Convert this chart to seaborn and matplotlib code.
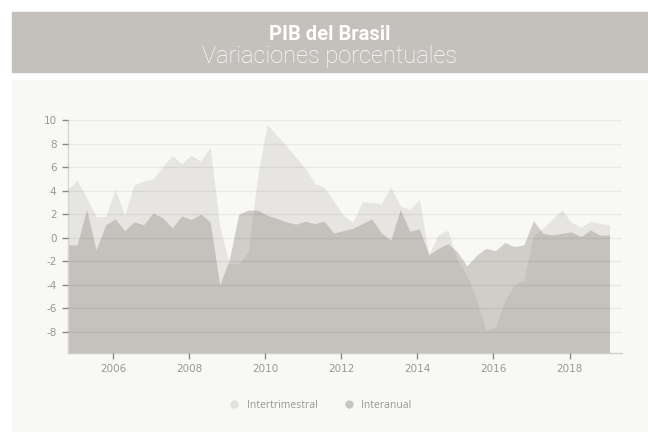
import numpy as np
import pandas as pd
import seaborn as sns
import matplotlib.pyplot as plt
from matplotlib.patches import Rectangle
from matplotlib.lines import Line2D

# Quarters shown, Q4 2004 .. Q1 2019
quarters = pd.period_range("2004Q4", "2019Q1", freq="Q")

# Series as labelled in the legend
intertrimestral = [4.1, 4.9, 3.4, 1.8, 1.8, 4.1, 1.9, 4.5, 4.8, 5.0,
                   6.0, 7.0, 6.3, 7.0, 6.5, 7.7, 1.0, -2.2, -2.2, -1.2,
                   5.3, 9.65, 8.7, 7.8, 6.85, 5.9, 4.6, 4.3, 3.1, 1.9,
                   1.3, 3.05, 3.0, 2.9, 4.3, 2.7, 2.4, 3.25, -1.4, 0.25,
                   0.65, -1.9, -3.2, -5.2, -7.8, -7.55, -5.3, -4.0, -3.6, 0.25,
                   0.8, 1.6, 2.35, 1.3, 0.9, 1.4, 1.2, 1.1]
interanual = [-0.6, -0.6, 2.4, -1.05, 1.1, 1.6, 0.6, 1.35, 1.1, 2.1,
              1.7, 0.85, 1.85, 1.55, 2.0, 1.35, -4.0, -1.9, 2.0, 2.35,
              2.35, 1.9, 1.65, 1.35, 1.15, 1.4, 1.2, 1.4, 0.4, 0.6,
              0.8, 1.2, 1.6, 0.4, -0.2, 2.4, 0.55, 0.75, -1.45, -0.9,
              -0.5, -1.2, -2.4, -1.5, -0.9, -1.1, -0.4, -0.75, -0.6, 1.45,
              0.37, 0.23, 0.37, 0.5, 0.1, 0.65, 0.23, 0.23]
labels = ["Intertrimestral", "Interanual"]
year_ticks = [2006, 2008, 2010, 2012, 2014, 2016, 2018]
value_ticks = [-8, -6, -4, -2, 0, 2, 4, 6, 8, 10]

x = np.asarray(quarters.year + (quarters.quarter - 1) / 4 + 0.05, dtype=float)
df = pd.DataFrame({"x": x, "a": intertrimestral, "b": interanual})

sns.set_theme(style="white")
plt.rcParams["font.family"] = ["DejaVu Sans"]
plt.rcParams["axes.unicode_minus"] = False

fig = plt.figure(figsize=(6.48, 4.32), dpi=100)
fig.patch.set_facecolor("white")

# header band and light panel
fig.add_artist(Rectangle((12 / 648, 1 - 72 / 432), 636 / 648, 60 / 432,
                         transform=fig.transFigure, color="#c4c0bb", zorder=0))
fig.add_artist(Rectangle((12 / 648, 0), 636 / 648, 1 - 80 / 432,
                         transform=fig.transFigure, color="#f8f8f6", zorder=0))
fig.text(330 / 648, 1 - 35 / 432, "PIB del Brasil", ha="center", va="center",
         color="white", fontsize=14.5, fontweight="bold", family="Roboto")
fig.text(330 / 648, 1 - 56 / 432, "Variaciones porcentuales", ha="center", va="center",
         color="white", fontsize=17, fontweight="light", family="Roboto")

ax = fig.add_axes([67.6 / 648, 1 - 352.5 / 432, (622 - 67.6) / 648, (352.5 - 120) / 432])
ax.set_facecolor("none")

base = -10
sns.lineplot(data=df, x="x", y="a", ax=ax, color="#e6e5e2", linewidth=0)
sns.lineplot(data=df, x="x", y="b", ax=ax, color="#8a8075", linewidth=0)
ax.fill_between(df["x"], base, df["a"], color="#e6e5e2", linewidth=0, zorder=1)
ax.fill_between(df["x"], base, df["b"], color="#8a8075", alpha=0.35, linewidth=0, zorder=1.1)

ax.set_xlim(2004.8, 2019.38)
ax.set_ylim(-9.75, 10)
ax.set_xticks(year_ticks)
ax.set_yticks(value_ticks)
ax.set_xlabel("")
ax.set_ylabel("")

ax.set_axisbelow(False)
ax.grid(axis="y", color="black", alpha=0.06, linewidth=1)
ax.grid(axis="x", visible=False)

for s in ["top", "right"]:
    ax.spines[s].set_visible(False)
ax.spines["left"].set_color("#d6d5d2")
ax.spines["bottom"].set_color("#cfceca")
ax.spines["left"].set_linewidth(1)
ax.spines["bottom"].set_linewidth(1)
ax.tick_params(axis="both", direction="out", length=4, width=1, color="#8c8a86",
               labelsize=7.5, labelcolor="#9a9893", pad=4, bottom=True, left=True)

handles = [Line2D([], [], marker="o", ls="", markersize=5, color="#e2e1df"),
           Line2D([], [], marker="o", ls="", markersize=5, color="#c9c6c2")]
fig.legend(handles, labels, loc="center", bbox_to_anchor=(0.49, 1 - 405 / 432),
           ncol=2, frameon=False, labelcolor="#9a9792",
           columnspacing=2.0, handletextpad=0.2, prop={"family": "Open Sans", "size": 7.5})

fig.savefig("out.png", dpi=100)
